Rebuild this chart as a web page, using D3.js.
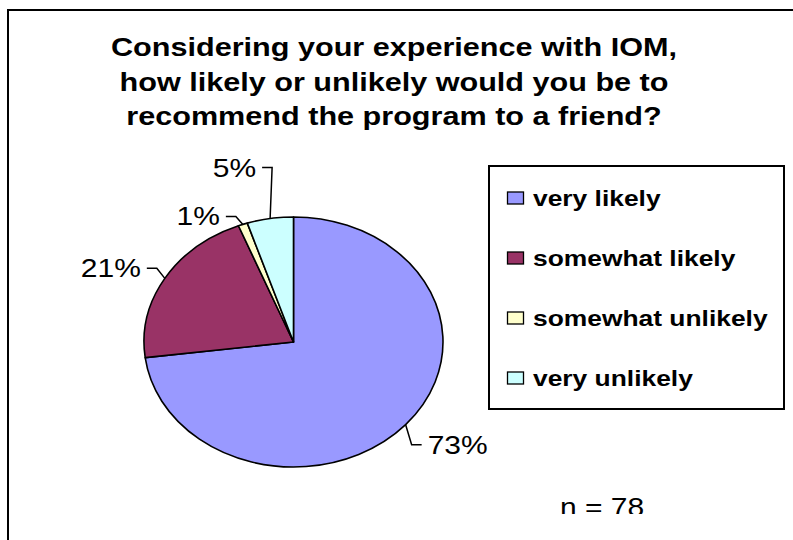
<!DOCTYPE html>
<html>
<head>
<meta charset="utf-8">
<script src="https://cdn.jsdelivr.net/npm/d3@7"></script>
<style>
body { margin: 0; background: #fff; }
text { font-family: Arial, "Liberation Sans", sans-serif; }
</style>
</head>
<body>
<script>
// data
var categories = ["very likely", "somewhat likely", "somewhat unlikely", "very unlikely"];
var percents = [73, 21, 1, 5];
var colors = ["#9999ff", "#993366", "#ffffcc", "#ccffff"];
var titleLines = ["Considering your experience with IOM,", "how likely or unlikely would you be to", "recommend the program to a friend?"];
var note = "n = 78";

// layout (chart is stretched sideways like the original)
var W = 793, H = 540;
var sx = 1.2;
var cx = 293.5, cy = 342, ry = 125, rx = 149.5;
// leader elbows, relative to the slice's outer midpoint
var elbows = [[6, 20, 1], [-8, -10, -1], [-7, -8, -1], [2, -51, -1]];

var svg = d3.select("body").append("svg")
.attr("width", W)
.attr("height", H);

svg.append("rect")
.attr("width", W)
.attr("height", H)
.attr("fill", "#fff");

// chart area border (cut off on the right and bottom)
svg.append("rect")
.attr("x", 8)
.attr("y", 10)
.attr("width", 820)
.attr("height", 600)
.attr("fill", "none")
.attr("stroke", "#000")
.attr("stroke-width", 2);

function stretchedText(g, x, y, str, anchor) {
  return g.append("text")
  .attr("transform", "translate(" + x + "," + y + ") scale(" + sx + ",1)")
  .attr("text-anchor", anchor)
  .text(str);
}

// title
var titleG = svg.append("g")
.attr("font-weight", "bold")
.attr("font-size", 25.5);
titleLines.forEach(function(t, i) {
  stretchedText(titleG, 394, 56 + i * 34.5, t, "middle");
});

// pie
var pie = d3.pie().sort(null).value(function(d) { return d; });
var arcs = pie(percents);
var arc = d3.arc().innerRadius(0).outerRadius(ry);

var pieG = svg.append("g")
.attr("transform", "translate(" + cx + "," + cy + ") scale(" + (rx / ry) + ",1)");

pieG.selectAll("path")
.data(arcs)
.enter().append("path")
.attr("d", arc)
.attr("fill", function(d, i) { return colors[i]; })
.attr("stroke", "#000")
.attr("stroke-width", 1.6)
.attr("stroke-linejoin", "round")
.attr("vector-effect", "non-scaling-stroke");

// labels with leader lines
var labelG = svg.append("g")
.attr("font-size", 25);
arcs.forEach(function(d, i) {
  var a = (d.startAngle + d.endAngle) / 2;
  var px = cx + rx * Math.sin(a);
  var py = cy - ry * Math.cos(a);
  var e = elbows[i];
  var ex = px + e[0], ey = py + e[1];
  var hx = ex + e[2] * 10;
  labelG.append("path")
  .attr("d", "M" + px + "," + py + "L" + ex + "," + ey + "L" + hx + "," + ey)
  .attr("fill", "none")
  .attr("stroke", "#000")
  .attr("stroke-width", 1.5);
  stretchedText(labelG, hx + e[2] * 6, ey + 9, d3.format(".0f")(percents[i]) + "%", e[2] > 0 ? "start" : "end");
});

// legend
var legend = svg.append("g");
legend.append("rect")
.attr("x", 489)
.attr("y", 166)
.attr("width", 295)
.attr("height", 243)
.attr("fill", "#fff")
.attr("stroke", "#000")
.attr("stroke-width", 2);

var ly = d3.scalePoint().domain(categories).range([198, 378]);
var items = legend.selectAll("g.item")
.data(categories)
.enter().append("g")
.attr("class", "item");

items.append("rect")
.attr("x", 507.5)
.attr("y", function(d) { return ly(d) - 6; })
.attr("width", 16)
.attr("height", 12)
.attr("fill", function(d, i) { return colors[i]; })
.attr("stroke", "#000")
.attr("stroke-width", 1.3);

items.each(function(d) {
  stretchedText(d3.select(this), 533, ly(d) + 7.5, d, "start")
  .attr("font-weight", "bold")
  .attr("font-size", 22);
});

// sample size note, clipped at the bottom like the source
svg.append("clipPath")
.attr("id", "noteClip")
.append("rect")
.attr("x", 0)
.attr("y", 0)
.attr("width", W)
.attr("height", 514);

var noteG = svg.append("g")
.attr("clip-path", "url(#noteClip)")
.attr("font-size", 25);
stretchedText(noteG, 602, 516, note, "middle");
</script>
</body>
</html>
